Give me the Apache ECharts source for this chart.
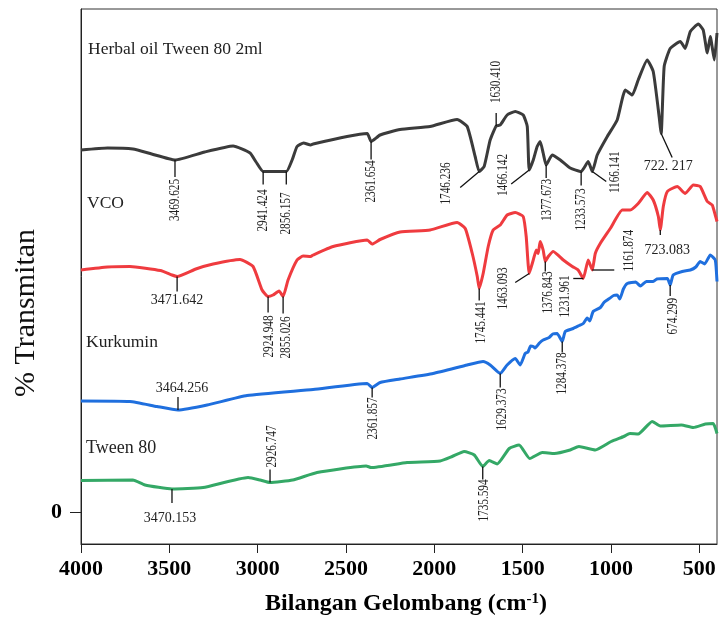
<!DOCTYPE html>
<html lang="id" style="height: 100%">
<head>
    <meta charset="utf-8">
    <script type="text/javascript" src="https://fastly.jsdelivr.net/npm/echarts@6.0.0/dist/echarts.min.js"></script>
    <title>FTIR</title>
</head>
<body style="height: 100%; margin: 0; background: #fff">
<div id="container" style="height: 625px; width: 723px"></div>

<script type="text/javascript">
    // spektrum: [bilangan gelombang, %T (offset)]
    var herbalOil = [[4000,72.4],[3850,72.8],[3706,72.6],[3600,71.6],[3468,70.4],[3300,72.0],[3139,73.2],[3043,71.8],[3009,70.0],[2969,68.1],[2838,68.1],[2805,70.4],[2777,73.1],[2740,73.8],[2700,73.4],[2686,73.6],[2494,75.1],[2380,75.7],[2358,74.1],[2307,75.4],[2194,76.5],[2024,77.1],[1871,78.5],[1814,77.1],[1769,71.1],[1746,68.1],[1718,69.1],[1684,74.4],[1650,77.2],[1627,77.4],[1588,79.4],[1542,80.1],[1497,79.4],[1474,77.1],[1463,68.4],[1440,70.4],[1418,73.1],[1401,74.1],[1384,71.8],[1367,69.4],[1333,71.4],[1287,70.4],[1231,68.8],[1169,68.1],[1129,70.1],[1106,68.1],[1078,71.4],[1021,75.1],[965,78.4],[919,84.4],[880,83.4],[846,86.4],[795,90.4],[761,88.1],[732,80.4],[716,75.7],[699,89.1],[665,92.7],[608,94.1],[580,92.7],[551,96.1],[506,97.6],[478,96.4],[455,91.8],[438,95.1],[415,90.4],[400,95.8]];
    var vco = [[4000,48.4],[3850,49.0],[3723,49.1],[3550,48.3],[3485,47.4],[3456,47.1],[3350,48.6],[3252,49.6],[3100,50.5],[3026,49.1],[2975,44.4],[2941,43.1],[2913,43.4],[2879,44.2],[2856,43.1],[2828,46.4],[2777,50.4],[2743,51.2],[2700,51.1],[2686,51.4],[2573,53.1],[2380,54.4],[2352,53.6],[2307,54.5],[2194,56.0],[2024,56.4],[1871,57.9],[1825,56.7],[1786,51.8],[1757,47.1],[1746,44.7],[1723,47.8],[1695,53.1],[1667,56.4],[1627,57.4],[1588,59.4],[1542,59.9],[1497,59.1],[1480,55.1],[1463,47.7],[1440,50.4],[1423,52.4],[1412,51.7],[1401,54.1],[1384,52.4],[1372,50.1],[1355,51.1],[1327,52.1],[1270,50.4],[1219,49.1],[1186,48.4],[1157,46.7],[1129,50.4],[1106,48.4],[1089,51.7],[1061,53.7],[1004,56.7],[936,60.4],[891,60.4],[846,61.7],[795,63.9],[761,62.4],[732,59.1],[721,56.4],[704,61.1],[681,64.1],[625,65.1],[580,63.7],[534,65.4],[495,65.1],[455,62.1],[427,61.4],[410,59.4],[400,58.1]];
    var kurkumin = [[4000,22.2],[3723,22.1],[3570,21.1],[3451,20.4],[3286,21.4],[3060,23.3],[2686,24.5],[2380,25.7],[2352,24.9],[2307,25.9],[2194,26.6],[2007,27.7],[1814,29.4],[1724,30.1],[1684,29.4],[1627,27.7],[1588,29.4],[1542,30.7],[1514,29.4],[1486,31.7],[1470,32.0],[1455,33.2],[1440,33.1],[1430,32.8],[1405,33.8],[1384,34.4],[1350,34.9],[1330,35.6],[1305,35.7],[1276,34.1],[1259,36.1],[1214,36.7],[1180,37.3],[1157,37.7],[1135,38.8],[1120,38.2],[1101,40.1],[1060,40.9],[1040,41.9],[1021,42.4],[985,43.3],[965,43.4],[950,42.6],[930,44.6],[908,45.7],[860,46.0],[834,45.2],[800,46.1],[761,46.1],[740,46.6],[681,46.7],[665,45.4],[648,47.4],[597,48.1],[551,48.4],[520,49.0],[495,50.1],[470,49.6],[438,51.4],[410,50.4],[400,46.1]];
    var tween80 = [[4000,6.3],[3706,6.4],[3638,5.4],[3485,4.6],[3309,4.9],[3054,6.9],[2986,6.4],[2930,5.9],[2802,6.4],[2664,7.9],[2386,9.2],[2358,8.9],[2154,9.9],[1967,10.2],[1899,11.1],[1831,12.1],[1774,11.4],[1726,9.1],[1689,10.3],[1644,9.6],[1576,12.7],[1520,13.4],[1460,10.7],[1389,11.9],[1321,11.7],[1231,12.4],[1182,13.1],[1089,12.4],[999,14.1],[928,15.1],[893,15.7],[846,15.6],[767,18.1],[721,17.2],[602,17.4],[534,16.9],[466,17.6],[421,17.7],[400,15.7]];

    // puncak yang diberi label: [bilangan gelombang, %T, teks]
    var herbalPeaks = [[3468,70.4,'3469.625'],[2969,68.1,'2941.424'],[2838,68.1,'2856.157'],[2358,74.1,'2361.654'],[1746,68.1,'1746.236'],[1650,77.2,'1630.410'],[1463,68.4,'1466.142'],[1367,69.4,'1377.673'],[1169,68.1,'1233.573'],[1106,68.1,'1166.141'],[716,75.7,'722. 217']];
    var vcoPeaks = [[3456,47.1,'3471.642'],[2941,43.1,'2924.948'],[2856,43.1,'2855.026'],[1746,44.7,'1745.441'],[1463,47.7,'1463.093'],[1372,50.1,'1376.843'],[1157,46.7,'1231.961'],[1106,48.4,'1161.874'],[721,56.4,'723.083']];
    var kurkuminPeaks = [[3451,20.4,'3464.256'],[2352,24.9,'2361.857'],[1627,27.7,'1629.373'],[1276,34.1,'1284.378'],[665,45.4,'674.299']];
    var tweenPeaks = [[2930,5.9,'2926.747'],[3485,4.6,'3470.153'],[1726,9.1,'1735.594']];

    var xTicks = [500, 1000, 1500, 2000, 2500, 3000, 3500, 4000];

    // tata letak label: garis (dx, dy), teks (dx, dy), mode: d = tegak di bawah, u = tegak di atas, h = mendatar
    var tagLayout = {
        '3469.625': [0,17,0,19,'d'], '2941.424': [0,13,0,18,'d'], '2856.157': [0,13,0,21,'d'],
        '2361.654': [0,18,0,19,'d'], '1746.236': [-19,16,-33,-9,'d'], '1630.410': [0,-13,0,-23,'u'],
        '1466.142': [-18,14,-26,-16,'d'], '1377.673': [0,13,1,14,'d'], '1233.573': [0,14,0,17,'d'],
        '1166.141': [14,10,23,-20,'d'], '722. 217': [11,24,7,33,'h'],
        '3471.642': [0,15,0,24,'h'], '2924.948': [0,16,1,19,'d'], '2855.026': [0,17,3,20,'d'],
        '1745.441': [0,12,2,13,'d'], '1463.093': [-14,9,-26,-6,'d'], '1376.843': [0,10,3,10,'d'],
        '1231.961': [-10,0,-18,-3,'d'], '1161.874': [22,0,37,-40,'d'], '723.083': [0,5,7,20,'h'],
        '3464.256': [0,-13,4,-22,'h'], '2361.857': [0,10,1,10,'d'], '1629.373': [0,14,2,15,'d'],
        '1284.378': [0,11,0,11,'d'], '674.299': [0,11,3,13,'d'],
        '2926.747': [0,-13,2,-15,'u'], '3470.153': [0,14,-2,29,'h'], '1735.594': [0,13,2,13,'d']
    };

    var allPeaks = herbalPeaks.concat(vcoPeaks, kurkuminPeaks, tweenPeaks);
    var serif = '"Liberation Serif", "DejaVu Serif", serif';

    function renderTag(params, api) {
        var p = api.coord([api.value(0), api.value(1)]);
        var label = allPeaks[params.dataIndex][2];
        var t = tagLayout[label];
        var txt;
        if (t[4] === 'h') {
            txt = {
                type: 'text', x: p[0] + t[2], y: p[1] + t[3],
                style: { text: label, fill: '#222', font: '14px ' + serif, align: 'center', verticalAlign: 'middle' }
            };
        } else {
            txt = {
                type: 'text', x: p[0] + t[2], y: p[1] + t[3],
                rotation: Math.PI / 2, scaleX: 0.8,
                style: { text: label, fill: '#222', font: '14px ' + serif,
                    align: t[4] === 'd' ? 'right' : 'left', verticalAlign: 'middle' }
            };
        }
        return {
            type: 'group',
            children: [
                { type: 'line', shape: { x1: p[0], y1: p[1], x2: p[0] + t[0], y2: p[1] + t[1] },
                  style: { stroke: '#111', lineWidth: 1.3 } },
                txt
            ]
        };
    }

    function spectrum(name, data, color) {
        return {
            name: name, type: 'line', data: data, showSymbol: false, smooth: 0.15,
            lineStyle: { color: color, width: 3 }, z: 2
        };
    }

    var dom = document.getElementById('container');
    var myChart = echarts.init(dom, null, { renderer: 'canvas' });

    var option = {
        backgroundColor: '#fff',
        animation: false,
        grid: { left: 81, right: 6, top: 9, bottom: 81, show: true, borderColor: '#333', borderWidth: 1 },
        xAxis: {
            type: 'value', inverse: true, min: 400, max: 4000,
            axisLine: { onZero: false, lineStyle: { color: '#222', width: 1 } },
            axisTick: { customValues: xTicks, length: 9, lineStyle: { color: '#222' } },
            axisLabel: {
                customValues: xTicks, margin: 14, color: '#000', fontSize: 22, fontWeight: 'bold', fontFamily: serif,
                formatter: function (v) { return String(v); }
            },
            splitLine: { show: false }
        },
        yAxis: {
            type: 'value', min: -6.4, max: 100.6,
            axisLine: { show: true, onZero: false, lineStyle: { color: '#222', width: 1 } },
            axisTick: { show: true, customValues: [0], length: 11, lineStyle: { color: '#222' } },
            axisLabel: { customValues: [0], margin: 19, color: '#000', fontSize: 22, fontWeight: 'bold', fontFamily: serif },
            splitLine: { show: false }
        },
        graphic: [
            { type: 'text', left: 88, top: 40, style: { text: 'Herbal oil Tween 80 2ml', fill: '#222', font: '17.5px ' + serif } },
            { type: 'text', left: 87, top: 194, style: { text: 'VCO', fill: '#222', font: '17.5px ' + serif } },
            { type: 'text', left: 86, top: 333, style: { text: 'Kurkumin', fill: '#222', font: '17.5px ' + serif } },
            { type: 'text', left: 86, top: 439, style: { text: 'Tween 80', fill: '#222', font: '18px ' + serif } },
            {
                type: 'text', x: 26, y: 313, rotation: Math.PI / 2,
                style: { text: '% Transmitan', fill: '#111', font: '30px ' + serif, align: 'center', verticalAlign: 'middle' }
            },
            {
                type: 'text', x: 406, y: 604,
                style: {
                    text: '{b|Bilangan Gelombang (cm}{s|-1}{b|)}', align: 'center', verticalAlign: 'middle',
                    rich: {
                        b: { fontSize: 24, fontWeight: 'bold', fontFamily: serif, fill: '#000', color: '#000' },
                        s: { fontSize: 15, fontWeight: 'bold', fontFamily: serif, fill: '#000', color: '#000', verticalAlign: 'top' }
                    }
                }
            }
        ],
        series: [
            spectrum('Herbal oil Tween 80 2ml', herbalOil, '#3b3b3b'),
            spectrum('VCO', vco, '#ef3b3f'),
            spectrum('Kurkumin', kurkumin, '#1f6fde'),
            spectrum('Tween 80', tween80, '#34a866'),
            {
                type: 'custom', coordinateSystem: 'cartesian2d', renderItem: renderTag,
                data: allPeaks.map(function (p) { return [p[0], p[1]]; }),
                encode: { x: 0, y: 1 }, clip: false, z: 5, silent: true
            }
        ]
    };

    myChart.setOption(option);
    window.addEventListener('resize', myChart.resize);
</script>
</body>
</html>
